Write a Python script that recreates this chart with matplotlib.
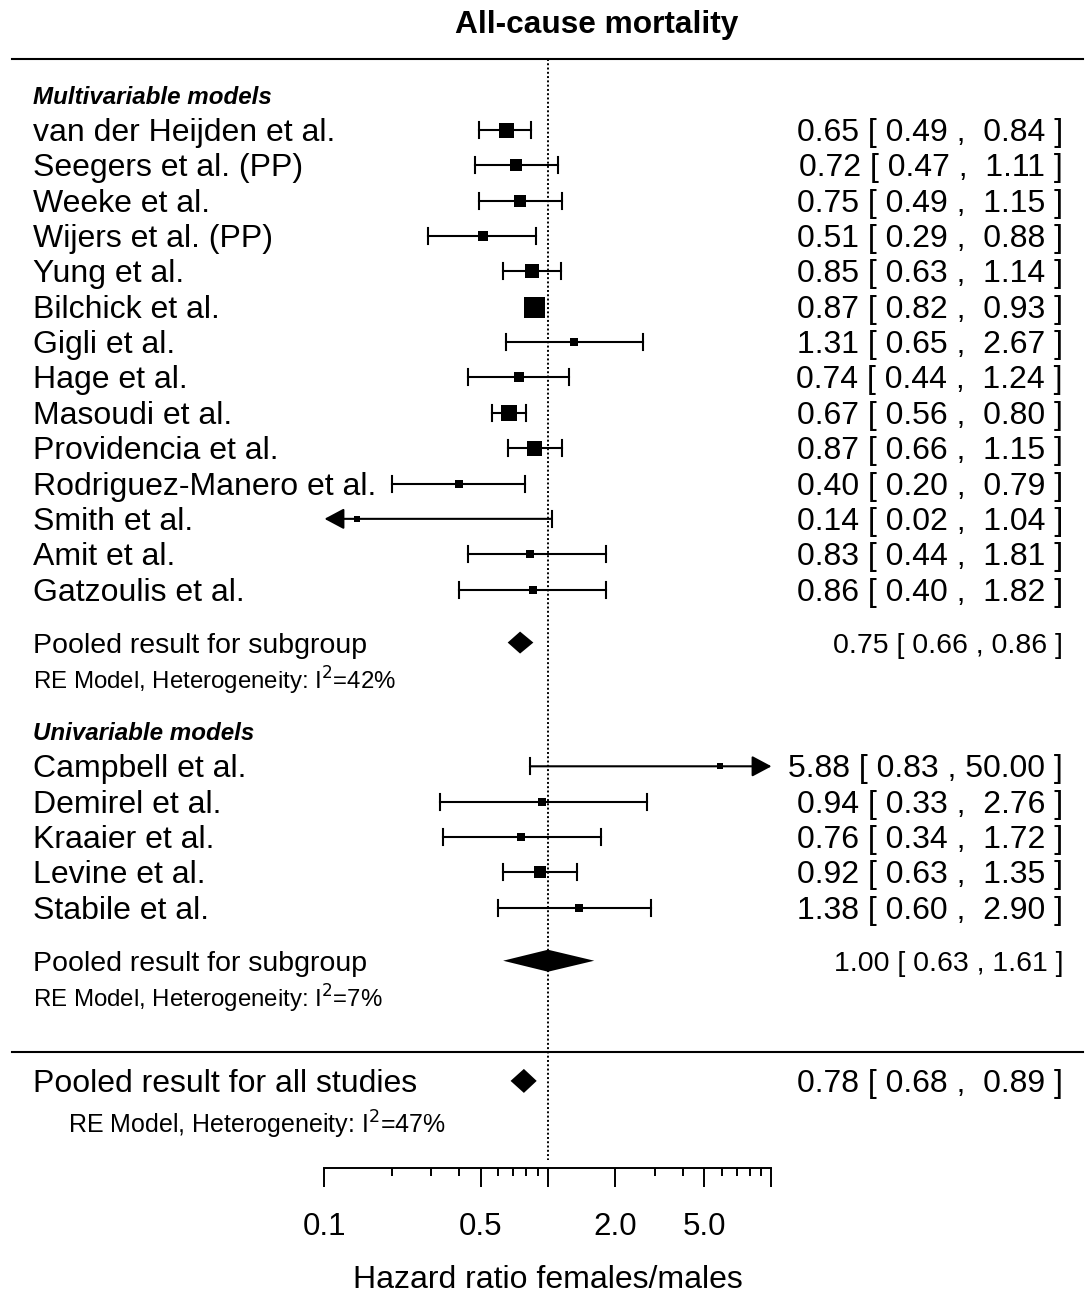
import matplotlib.pyplot as plt
import matplotlib.transforms as mtransforms
from matplotlib.ticker import NullFormatter

plt.rcParams['font.family'] = ['Liberation Sans', 'DejaVu Sans']

# multivariable models
multi_names = ["van der Heijden et al.", "Seegers et al. (PP)", "Weeke et al.",
               "Wijers et al. (PP)", "Yung et al.", "Bilchick et al.", "Gigli et al.",
               "Hage et al.", "Masoudi et al.", "Providencia et al.",
               "Rodriguez-Manero et al.", "Smith et al.", "Amit et al.", "Gatzoulis et al."]
multi_hr = [0.65, 0.72, 0.75, 0.51, 0.85, 0.87, 1.31, 0.74, 0.67, 0.87, 0.40, 0.14, 0.83, 0.86]
multi_lo = [0.49, 0.47, 0.49, 0.29, 0.63, 0.82, 0.65, 0.44, 0.56, 0.66, 0.20, 0.02, 0.44, 0.40]
multi_hi = [0.84, 1.11, 1.15, 0.88, 1.14, 0.93, 2.67, 1.24, 0.80, 1.15, 0.79, 1.04, 1.81, 1.82]
multi_weight = [8.8, 6.2, 6.2, 4.5, 7.9, 14.0, 2.7, 4.5, 10.5, 8.8, 2.7, 1.0, 2.7, 2.7]

# univariable models
uni_names = ["Campbell et al.", "Demirel et al.", "Kraaier et al.", "Levine et al.", "Stabile et al."]
uni_hr = [5.88, 0.94, 0.76, 0.92, 1.38]
uni_lo = [0.83, 0.33, 0.34, 0.63, 0.60]
uni_hi = [50.00, 2.76, 1.72, 1.35, 2.90]
uni_weight = [1.0, 1.9, 2.7, 6.2, 2.7]

# pooled estimates: hr, lower, upper
pooled_multi = [0.75, 0.66, 0.86]
pooled_uni = [1.00, 0.63, 1.61]
pooled_all = [0.78, 0.68, 0.89]
i2_multi, i2_uni, i2_all = 42, 7, 47

major_ticks = [0.1, 0.5, 1, 2, 5, 10]
major_labels = ["0.1", "0.5", "", "2.0", "5.0", ""]
minor_ticks = [0.2, 0.3, 0.4, 0.6, 0.7, 0.8, 0.9, 3, 4, 6, 7, 8, 9]

W, H = 1086, 1295
x_one = 548        # pixel of HR = 1
decade = 223.5     # pixels per decade
x_min, x_max = 0.1, 10
dy = 3             # text nudge so it sits centred on the marks

fig = plt.figure(figsize=(W / 100, H / 100), dpi=100)
ax = fig.add_axes([0, 0, 1, 1])
ax.set_xscale('log')
ax.set_xlim(10 ** (-x_one / decade), 10 ** ((W - x_one) / decade))
ax.set_ylim(H, 0)
for s in ['left', 'right', 'top']:
    ax.spines[s].set_visible(False)
ax.set_yticks([])

trans = mtransforms.blended_transform_factory(ax.transAxes, ax.transData)


def row_y(r):
    return 130 + 35.35 * r


def fmt_ci(est, lo, hi, width):
    return f"{est:.2f} [ {lo:.2f} , {hi:>{width}.2f} ]"


def label(x, y, s, size, **kw):
    ax.text(x, y + dy, s, transform=trans, fontsize=size, va='center', **kw)


def draw_study(y, hr, lo, hi, w):
    lw = 1.5
    lo_c = max(lo, x_min)
    hi_c = min(hi, x_max)
    arrow = dict(arrowstyle='-|>,head_length=0.6,head_width=0.32', color='black',
                 lw=lw, shrinkA=0, shrinkB=0, mutation_scale=20)
    if lo < x_min:
        ax.annotate('', xy=(x_min, y), xytext=(hi_c, y), arrowprops=arrow)
    elif hi > x_max:
        ax.annotate('', xy=(x_max, y), xytext=(lo_c, y), arrowprops=arrow)
    else:
        ax.plot([lo_c, hi_c], [y, y], color='black', lw=lw)
    if lo >= x_min:
        ax.plot([lo, lo], [y - 8, y + 8], color='black', lw=lw)
    if hi <= x_max:
        ax.plot([hi, hi], [y - 8, y + 8], color='black', lw=lw)
    size_px = 6 + (w - 1.0) * 15 / 13
    ax.plot(hr, y, marker='s', ms=size_px * 0.72, color='black', mew=0)


def draw_diamond(y, est, lo, hi, h):
    ax.fill([lo, est, hi, est], [y, y - h, y, y + h], color='black', lw=0)


study_fs = 23
label_x = 33 / W
right_x = 1063 / W

# multivariable models
label(label_x, row_y(-1), "Multivariable models", 17.4, fontweight='bold', fontstyle='italic')
for i, name in enumerate(multi_names):
    y = row_y(i)
    draw_study(y, multi_hr[i], multi_lo[i], multi_hi[i], multi_weight[i])
    label(label_x, y, name, study_fs)
    label(right_x, y, fmt_ci(multi_hr[i], multi_lo[i], multi_hi[i], 5), study_fs, ha='right')

y = row_y(14.5)
draw_diamond(y, *pooled_multi, 11)
label(label_x, y, "Pooled result for subgroup", 20.5)
label(right_x, y, fmt_ci(*pooled_multi, 4), 20.5, ha='right')
label(label_x, row_y(15.5), f"RE Model, Heterogeneity: I$^2$={i2_multi}%", 17.3)

# univariable models
label(label_x, row_y(17), "Univariable models", 17.4, fontweight='bold', fontstyle='italic')
for i, name in enumerate(uni_names):
    y = row_y(18 + i)
    draw_study(y, uni_hr[i], uni_lo[i], uni_hi[i], uni_weight[i])
    label(label_x, y, name, study_fs)
    label(right_x, y, fmt_ci(uni_hr[i], uni_lo[i], uni_hi[i], 5), study_fs, ha='right')

y = row_y(23.5)
draw_diamond(y, *pooled_uni, 11)
label(label_x, y, "Pooled result for subgroup", 20.5)
label(right_x, y, fmt_ci(*pooled_uni, 4), 20.5, ha='right')
label(label_x, row_y(24.5), f"RE Model, Heterogeneity: I$^2$={i2_uni}%", 17.3)

# all studies
y = row_y(26.9)
draw_diamond(y, *pooled_all, 12)
label(label_x, y, "Pooled result for all studies", study_fs)
label(right_x, y, fmt_ci(*pooled_all, 5), study_fs, ha='right')
label(68 / W, row_y(28.05), f"RE Model, Heterogeneity: I$^2$={i2_all}%", 18)

# horizontal rules and reference line
ax.axhline(59, xmin=12 / W, xmax=1083 / W, color='black', lw=1.5)
ax.axhline(1052, xmin=12 / W, xmax=1083 / W, color='black', lw=1.5)
ax.plot([1, 1], [59, 1160], color='black', lw=1.4, ls=(0, (1, 1.2)))

# x axis
ax.spines['bottom'].set_position(('data', 1167.5))
ax.spines['bottom'].set_bounds(x_min, x_max)
ax.spines['bottom'].set_linewidth(1.4)
ax.set_xticks(major_ticks)
ax.set_xticklabels(major_labels)
ax.set_xticks(minor_ticks, minor=True)
ax.xaxis.set_minor_formatter(NullFormatter())
ax.tick_params(axis='x', which='major', length=14, width=1.4, direction='out',
               labelsize=22.5, pad=18)
ax.tick_params(axis='x', which='minor', length=6, width=1.4, direction='out')
ax.text(1, 1288, "Hazard ratio females/males", transform=ax.transData,
        fontsize=study_fs, ha='center', va='baseline')

fig.text(597 / W, 1 - (22 + dy) / H, "All-cause mortality", ha='center', va='center',
         fontsize=22.8, fontweight='bold')

fig.savefig('out.png', dpi=100, facecolor='white')
